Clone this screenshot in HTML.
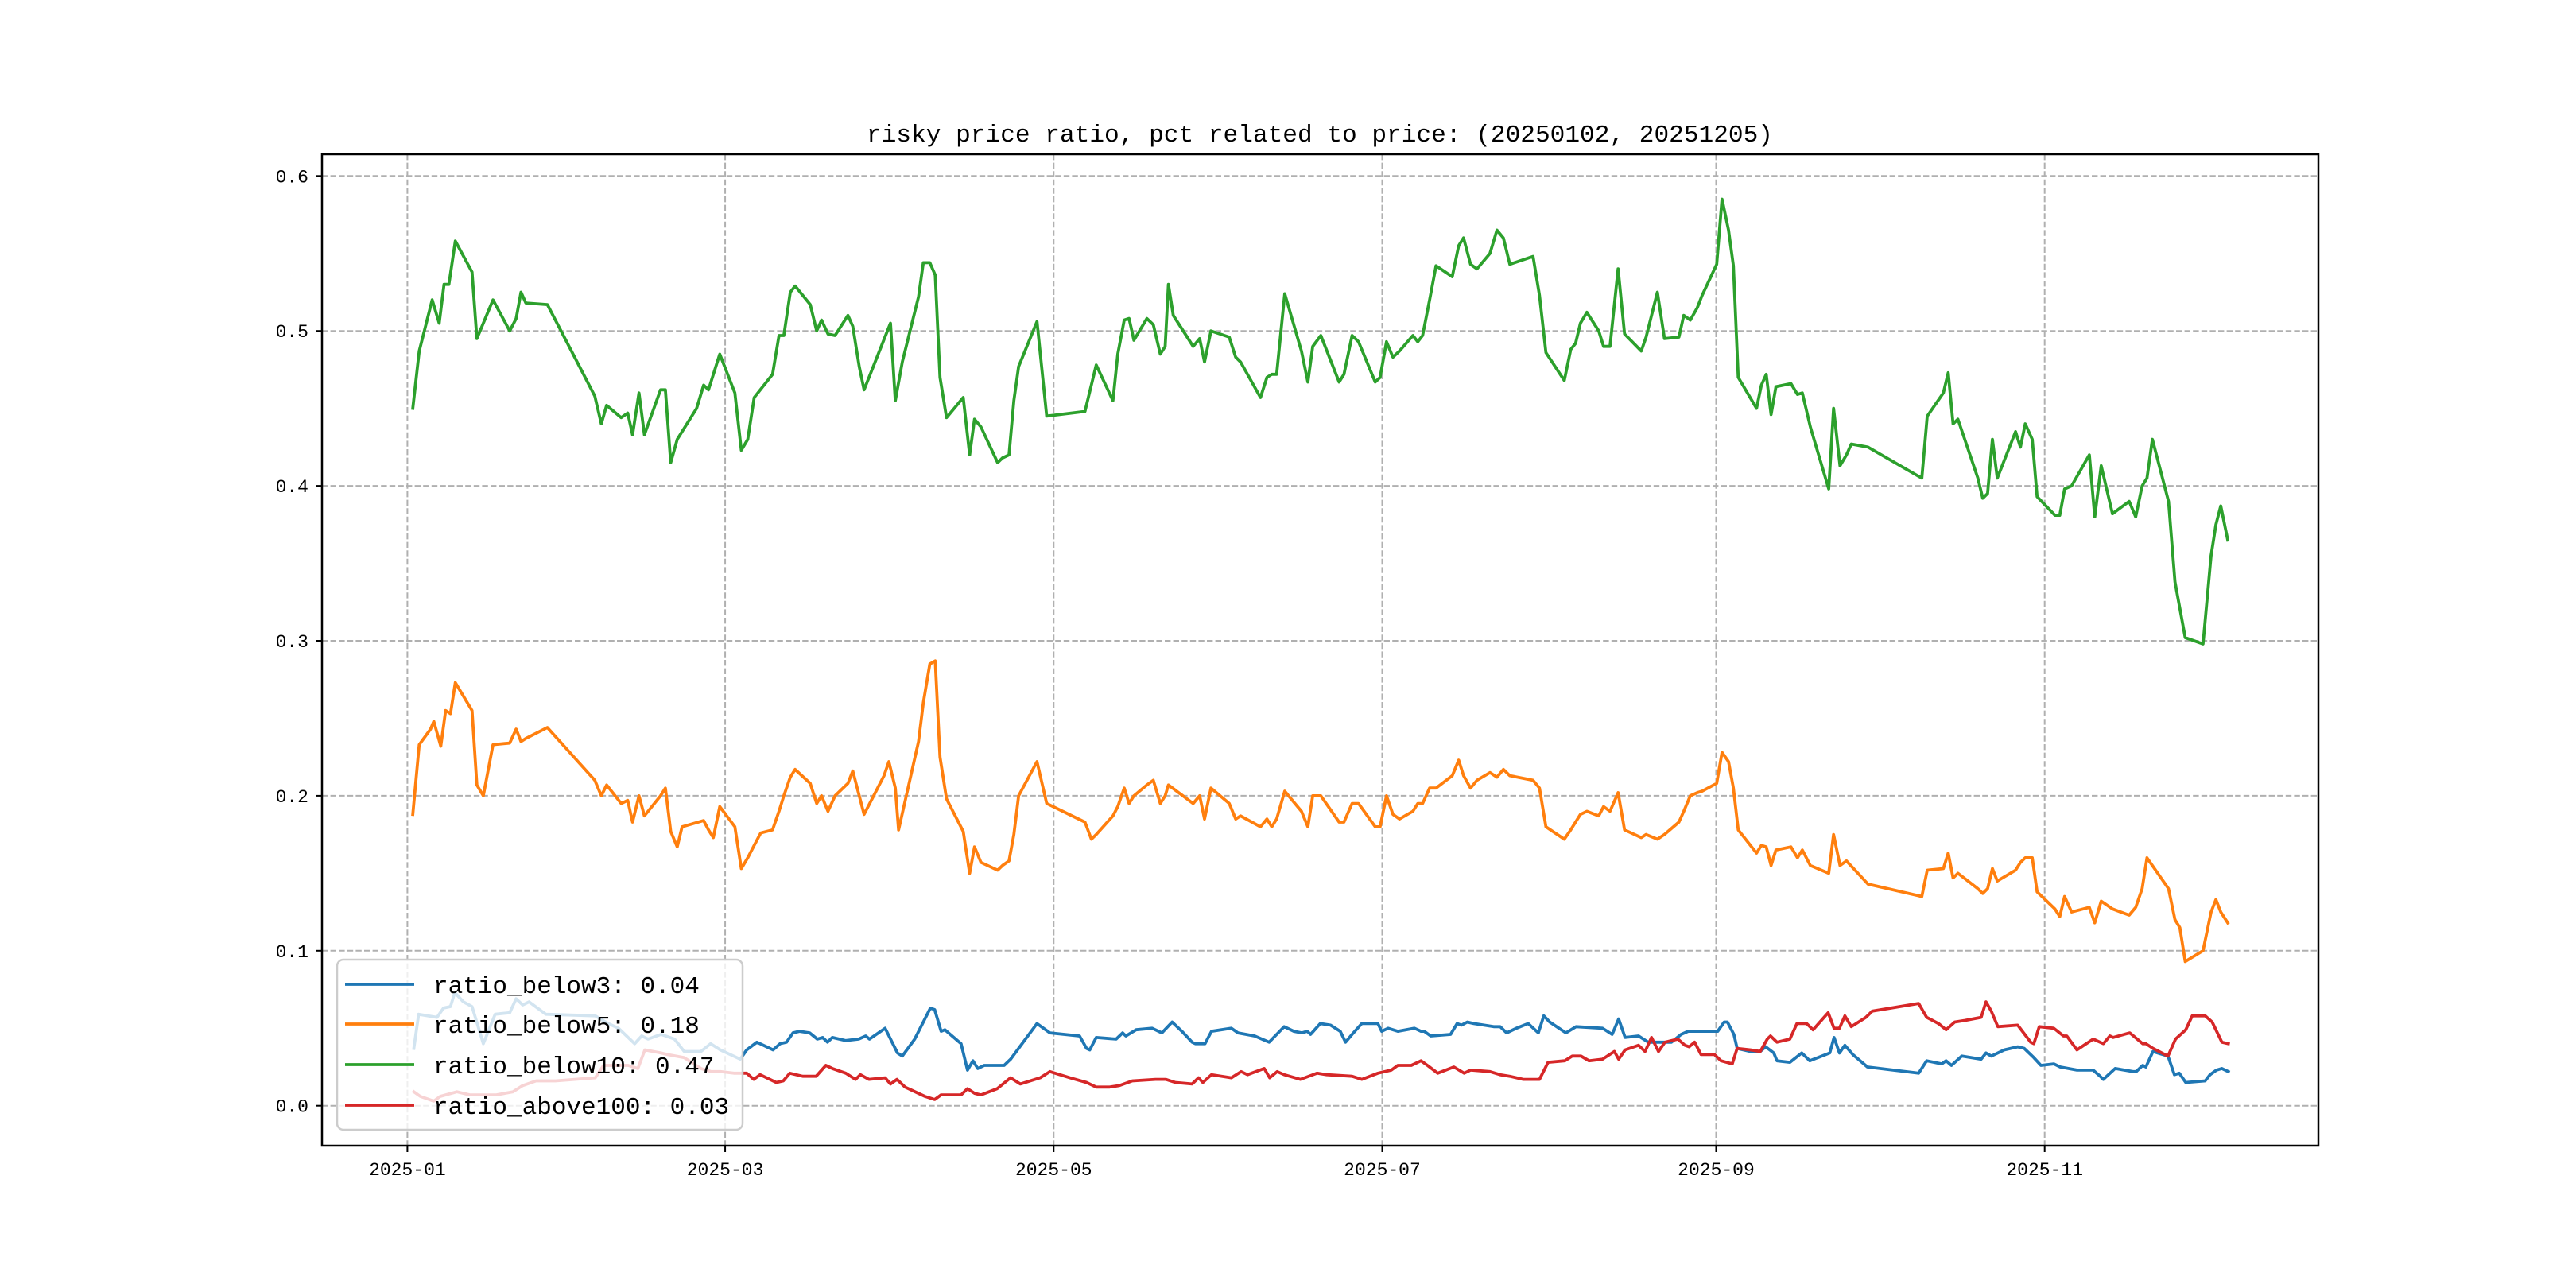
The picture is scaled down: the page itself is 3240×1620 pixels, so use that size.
<!DOCTYPE html>
<html><head><meta charset="utf-8">
<style>
html,body{margin:0;padding:0;background:#fff;}
svg{display:block;}
text{font-family:"Liberation Mono","Noto Sans CJK SC",monospace;fill:#000;}
</style></head>
<body>
<svg id="chart" width="3240" height="1620" viewBox="0 0 3240 1620" xmlns="http://www.w3.org/2000/svg">
<rect x="0" y="0" width="3240" height="1620" fill="#fff"/>
<text x="1660" y="178" text-anchor="middle" font-size="31" textLength="1140" lengthAdjust="spacingAndGlyphs">risky price ratio, pct related to price: (20250102, 20251205)</text>
<g id="grid"></g>
<g id="series"></g>
<rect x="405" y="194" width="2511" height="1247" fill="none" stroke="#000" stroke-width="2.5"/>
<g id="ticks"></g>
<g id="legend"></g>
</svg>
<script>
// x values are days since 2025-01-01
const xTickLabels = ["2025-01","2025-03","2025-05","2025-07","2025-09","2025-11"];
const xTickDays = [0,59,120,181,243,304];
const yTickValues = [0.0,0.1,0.2,0.3,0.4,0.5,0.6];
const yTickLabels = ["0.0","0.1","0.2","0.3","0.4","0.5","0.6"];
const seriesNames = ["ratio_below3: 0.04","ratio_below5: 0.18","ratio_below10: 0.47","ratio_above100: 0.03"];
const seriesColors = ["#1f77b4","#ff7f0e","#2ca02c","#d62728"];

const below10Days = [1.0,2.2,4.6,5.9,6.8,7.7,8.9,12.0,12.9,14.1,15.9,19.0,20.2,21.1,22.0,26.0,34.8,36.0,37.0,39.7,40.9,41.8,43.0,44.0,47.0,47.9,48.9,50.1,53.7,55.0,55.9,58.0,60.8,62.0,63.2,64.4,67.8,69.0,69.9,71.1,72.0,74.8,76.0,76.9,78.1,79.4,81.8,82.7,83.9,84.8,89.7,90.6,91.9,94.9,95.8,97.0,98.0,98.9,100.1,103.2,104.4,105.3,106.5,109.6,110.5,111.7,112.6,113.5,116.9,118.7,125.8,127.9,131.0,131.9,133.1,134.0,134.9,137.3,138.5,139.8,140.7,141.3,142.2,145.9,147.1,148.0,149.2,152.6,153.8,154.7,158.4,159.6,160.5,161.4,162.9,166.0,167.2,168.1,169.6,173.0,173.9,175.4,176.6,179.7,180.6,181.8,183.0,184.2,186.7,187.6,188.5,189.8,191.0,194.0,195.2,196.1,197.4,198.6,201.0,202.3,203.5,204.7,209.0,210.2,211.4,214.8,216.0,216.9,217.8,219.0,221.2,222.1,223.3,224.8,226.0,229.1,230.0,232.1,233.4,236.1,237.0,238.2,239.5,240.4,243.1,244.1,245.3,246.2,247.1,250.5,251.4,252.3,253.2,254.1,256.9,258.1,259.0,260.5,263.9,264.8,266.0,267.2,268.1,271.2,281.2,282.2,285.2,286.1,287.0,287.9,291.6,292.5,293.4,294.3,295.2,298.6,299.5,300.4,301.7,302.6,305.9,306.8,307.7,309.0,312.3,313.3,314.5,316.6,319.7,320.9,322.1,323.0,324.0,327.0,328.2,330.1,333.4,334.9,335.8,336.7,338.0];
const below10Values = [0.45,0.487,0.52,0.505,0.53,0.53,0.558,0.538,0.495,0.505,0.52,0.50,0.508,0.525,0.518,0.517,0.458,0.44,0.452,0.444,0.447,0.433,0.46,0.433,0.462,0.462,0.415,0.43,0.45,0.465,0.462,0.485,0.46,0.423,0.43,0.457,0.472,0.497,0.497,0.525,0.529,0.517,0.5,0.507,0.498,0.497,0.51,0.503,0.477,0.462,0.505,0.455,0.48,0.522,0.544,0.544,0.536,0.47,0.444,0.457,0.42,0.443,0.438,0.415,0.418,0.42,0.455,0.477,0.506,0.445,0.448,0.478,0.455,0.485,0.507,0.508,0.494,0.508,0.504,0.485,0.49,0.53,0.51,0.49,0.495,0.48,0.5,0.496,0.483,0.48,0.457,0.47,0.472,0.472,0.524,0.487,0.467,0.49,0.497,0.467,0.472,0.497,0.493,0.467,0.47,0.493,0.483,0.487,0.497,0.493,0.497,0.52,0.542,0.535,0.555,0.56,0.543,0.54,0.55,0.565,0.56,0.543,0.548,0.523,0.486,0.468,0.488,0.492,0.505,0.512,0.5,0.49,0.49,0.54,0.498,0.487,0.496,0.525,0.495,0.496,0.51,0.507,0.515,0.523,0.543,0.585,0.565,0.542,0.47,0.45,0.465,0.472,0.446,0.464,0.466,0.459,0.46,0.438,0.398,0.45,0.413,0.42,0.427,0.425,0.405,0.445,0.46,0.473,0.44,0.443,0.405,0.392,0.395,0.43,0.405,0.435,0.425,0.44,0.43,0.393,0.381,0.381,0.398,0.4,0.42,0.38,0.413,0.382,0.39,0.38,0.4,0.405,0.43,0.39,0.338,0.302,0.298,0.355,0.375,0.387,0.365];

const below5Days = [1.0,2.2,4.3,4.9,6.2,7.1,8.0,8.9,12.0,12.9,14.1,15.9,19.0,20.2,21.1,22.0,26.0,34.8,36.0,37.0,39.7,40.9,41.8,43.0,44.0,47.0,47.9,48.9,50.1,51.0,55.0,55.9,56.8,58.0,60.8,62.0,63.2,64.4,65.6,67.8,69.0,69.9,71.1,72.0,74.8,76.0,76.9,78.1,79.4,81.8,82.7,83.9,84.8,88.5,89.4,90.6,91.2,94.9,95.8,97.0,98.0,98.9,100.1,103.2,104.4,105.3,106.5,109.6,110.5,111.7,112.6,113.5,116.9,118.7,125.8,127.0,127.9,131.0,131.9,133.1,134.0,134.9,137.3,138.5,139.8,140.7,141.3,145.9,147.1,148.0,149.2,152.6,153.8,154.7,158.4,159.6,160.5,161.4,162.9,166.0,167.2,168.1,169.6,173.0,173.9,175.4,176.6,179.7,180.6,181.8,183.0,184.2,186.7,187.6,188.5,189.8,191.0,194.0,195.2,196.1,197.4,198.6,201.0,202.3,203.5,204.7,209.0,210.2,211.4,214.8,216.0,217.8,219.0,221.2,222.1,223.3,224.8,226.0,229.1,230.0,232.1,233.4,236.1,237.0,238.2,239.5,240.4,243.1,244.1,245.3,246.2,247.1,250.5,251.4,252.3,253.2,254.1,256.9,258.1,259.0,260.5,263.9,264.8,266.0,267.2,271.2,281.2,282.2,285.2,286.1,287.0,287.9,291.6,292.5,293.4,294.3,295.2,298.6,299.5,300.4,301.7,302.6,305.9,306.8,307.7,309.0,312.3,313.3,314.5,316.6,319.7,320.9,322.1,323.0,327.0,328.2,329.1,330.1,333.4,334.9,335.8,336.7,338.0];
const below5Values = [0.188,0.233,0.243,0.248,0.232,0.255,0.253,0.273,0.255,0.207,0.2,0.233,0.234,0.243,0.235,0.237,0.244,0.21,0.2,0.207,0.195,0.197,0.183,0.2,0.187,0.2,0.205,0.177,0.167,0.18,0.184,0.178,0.173,0.193,0.18,0.153,0.16,0.168,0.176,0.178,0.19,0.2,0.212,0.217,0.208,0.195,0.2,0.19,0.2,0.208,0.216,0.2,0.188,0.213,0.222,0.205,0.178,0.235,0.26,0.285,0.287,0.225,0.198,0.177,0.15,0.167,0.157,0.152,0.155,0.158,0.175,0.2,0.222,0.195,0.183,0.172,0.175,0.187,0.193,0.205,0.195,0.2,0.207,0.21,0.195,0.2,0.207,0.195,0.2,0.185,0.205,0.195,0.185,0.187,0.18,0.185,0.18,0.185,0.203,0.19,0.18,0.2,0.2,0.183,0.183,0.195,0.195,0.18,0.18,0.2,0.188,0.185,0.19,0.195,0.195,0.205,0.205,0.213,0.223,0.213,0.205,0.21,0.215,0.212,0.217,0.213,0.21,0.205,0.18,0.172,0.178,0.188,0.19,0.187,0.193,0.19,0.202,0.178,0.173,0.175,0.172,0.175,0.183,0.19,0.2,0.202,0.203,0.208,0.228,0.222,0.205,0.178,0.163,0.168,0.167,0.155,0.165,0.167,0.16,0.165,0.155,0.15,0.175,0.155,0.158,0.143,0.135,0.152,0.153,0.163,0.147,0.15,0.14,0.137,0.14,0.153,0.145,0.152,0.157,0.16,0.16,0.138,0.127,0.122,0.135,0.125,0.128,0.118,0.132,0.127,0.123,0.128,0.14,0.16,0.14,0.12,0.115,0.093,0.1,0.125,0.133,0.125,0.118];

const below3Days = [1.2,2.1,5.5,6.7,8.0,8.8,10.4,12.0,14.1,16.3,19.0,20.2,21.4,22.6,25.7,34.9,37.3,39.2,42.2,43.5,44.7,47.1,49.6,51.4,54.5,56.3,58.1,61.8,63.0,64.9,67.9,69.2,70.4,71.6,72.8,74.7,76.1,77.1,78.0,78.9,81.4,83.8,85.1,85.8,88.7,91.0,91.9,94.2,97.1,97.9,99.1,99.8,102.8,104.0,105.0,105.9,107.1,110.8,112.0,116.9,119.3,124.8,126.1,126.7,127.9,131.6,132.8,133.4,135.3,138.3,140.1,142.0,143.8,145.7,146.3,148.1,149.3,153.0,154.2,157.3,160.0,162.8,164.6,166.1,167.1,167.7,169.5,171.4,173.2,174.2,175.4,177.2,180.2,180.9,182.1,183.9,187.0,188.2,188.8,190.0,193.7,194.9,195.7,196.8,198.0,201.7,202.9,204.1,205.9,208.1,210.0,211.0,212.1,215.1,217.0,221.9,223.7,224.9,226.1,228.6,230.4,231.6,234.7,236.5,237.8,243.3,244.5,245.1,246.3,246.9,249.4,251.2,252.2,253.7,254.3,256.7,258.9,260.4,264.1,264.9,265.9,266.9,268.4,271.1,280.6,282.1,284.9,285.7,286.7,288.6,292.2,293.1,294.1,296.5,299.0,300.2,302.0,303.3,305.7,306.9,310.0,313.0,314.3,314.9,317.1,320.4,321.0,322.2,322.8,324.1,326.9,328.1,329.0,330.2,333.8,334.7,335.9,336.9,338.1];
const below3Values = [0.037,0.059,0.057,0.063,0.064,0.073,0.067,0.064,0.040,0.059,0.060,0.069,0.065,0.067,0.059,0.058,0.053,0.050,0.040,0.045,0.043,0.046,0.043,0.035,0.035,0.040,0.036,0.030,0.036,0.041,0.036,0.040,0.041,0.047,0.048,0.047,0.043,0.044,0.041,0.044,0.042,0.043,0.045,0.043,0.050,0.034,0.032,0.043,0.063,0.062,0.048,0.049,0.040,0.023,0.029,0.024,0.026,0.026,0.030,0.053,0.047,0.045,0.037,0.036,0.044,0.043,0.047,0.045,0.049,0.050,0.047,0.054,0.048,0.041,0.040,0.040,0.048,0.050,0.047,0.045,0.041,0.051,0.048,0.047,0.048,0.046,0.053,0.052,0.048,0.041,0.046,0.053,0.053,0.048,0.050,0.048,0.050,0.048,0.048,0.045,0.046,0.053,0.052,0.054,0.053,0.051,0.051,0.047,0.050,0.053,0.047,0.058,0.054,0.047,0.051,0.050,0.046,0.056,0.044,0.045,0.041,0.041,0.041,0.046,0.048,0.048,0.054,0.054,0.046,0.037,0.035,0.035,0.038,0.034,0.029,0.028,0.034,0.029,0.034,0.044,0.034,0.039,0.033,0.025,0.021,0.029,0.027,0.029,0.026,0.032,0.030,0.034,0.032,0.036,0.038,0.037,0.031,0.026,0.027,0.025,0.023,0.023,0.019,0.017,0.024,0.022,0.022,0.026,0.025,0.035,0.032,0.020,0.021,0.015,0.016,0.020,0.023,0.024,0.022];

const above100Days = [1.2,2.4,4.9,6.1,9.2,11.6,16.5,19.6,21.4,23.9,27.5,34.9,36.4,41.0,42.8,44.1,47.1,48.3,51.4,54.5,56.4,58.1,60.6,63.0,64.3,65.5,68.5,69.8,71.0,73.4,75.9,77.7,78.9,81.4,83.2,84.1,85.7,88.7,89.7,90.9,92.4,96.1,97.9,99.1,102.8,104.0,105.3,106.5,109.5,112.0,113.8,117.5,119.3,123.0,126.1,127.9,130.4,132.2,134.6,138.9,140.8,142.6,145.7,146.9,147.7,149.3,153.0,154.8,156.0,159.1,160.1,161.5,162.8,165.8,168.9,170.7,175.4,177.2,180.2,182.7,183.9,186.4,188.2,189.4,191.3,194.3,196.2,197.4,201.0,202.9,204.7,207.2,209.0,210.2,211.8,214.9,216.3,217.9,219.4,221.9,224.1,224.9,226.1,228.6,229.8,231.0,232.3,233.5,235.9,237.2,238.0,239.0,240.2,242.7,243.9,246.0,246.9,249.4,251.2,252.5,253.1,254.3,256.7,258.0,259.8,261.0,263.8,264.9,265.9,266.9,268.1,270.8,272.0,280.6,282.1,284.3,285.7,287.3,289.2,292.2,293.1,294.1,295.3,299.0,301.4,302.0,303.0,305.7,307.5,308.1,310.0,313.0,314.9,316.1,316.7,319.8,322.2,322.8,324.1,326.9,328.3,330.2,331.4,333.8,335.1,336.9,338.1];
const above100Values = [0.009,0.006,0.003,0.006,0.009,0.007,0.007,0.009,0.013,0.016,0.016,0.018,0.026,0.026,0.024,0.036,0.034,0.033,0.031,0.024,0.022,0.022,0.021,0.021,0.017,0.020,0.015,0.016,0.021,0.019,0.019,0.026,0.024,0.021,0.017,0.020,0.017,0.018,0.014,0.017,0.012,0.006,0.004,0.007,0.007,0.011,0.008,0.007,0.011,0.018,0.014,0.018,0.022,0.018,0.015,0.012,0.012,0.013,0.016,0.017,0.017,0.015,0.014,0.018,0.015,0.020,0.018,0.022,0.020,0.024,0.018,0.022,0.020,0.017,0.021,0.020,0.019,0.017,0.021,0.023,0.026,0.026,0.029,0.026,0.021,0.025,0.021,0.023,0.022,0.020,0.019,0.017,0.017,0.017,0.028,0.029,0.032,0.032,0.029,0.030,0.035,0.030,0.036,0.039,0.035,0.044,0.035,0.041,0.043,0.039,0.038,0.041,0.033,0.033,0.029,0.027,0.037,0.036,0.035,0.043,0.045,0.041,0.043,0.053,0.053,0.049,0.060,0.050,0.050,0.058,0.051,0.057,0.061,0.066,0.057,0.053,0.049,0.054,0.055,0.057,0.067,0.061,0.051,0.052,0.041,0.040,0.051,0.050,0.045,0.045,0.036,0.043,0.040,0.045,0.044,0.047,0.040,0.040,0.037,0.032,0.043,0.049,0.058,0.058,0.054,0.041,0.040];

const X0 = 512.4, PXDAY = 6.774, Y0 = 1390.7, PXUNIT = 1949;
function xScale(d){ return X0 + d*PXDAY; }
function yScale(v){ return Y0 - v*PXUNIT; }
const NS = "http://www.w3.org/2000/svg";
function mk(tag, attrs, parent){
  const e = document.createElementNS(NS, tag);
  for (const k in attrs) e.setAttribute(k, attrs[k]);
  parent.appendChild(e); return e;
}
const grid = document.getElementById("grid");
const ticks = document.getElementById("ticks");
xTickDays.forEach((d,i)=>{
  const x = xScale(d);
  const g = mk("line",{x1:x,x2:x,y1:194,y2:1441,stroke:"#b0b0b0","stroke-width":2,"stroke-dasharray":"7.4,3.2"},grid);
  
  
  const t = mk("line",{x1:x,x2:x,y1:1441,y2:1449,stroke:"#000","stroke-width":2},ticks);
  
  
  const l = mk("text",{x:x,y:1478,"text-anchor":"middle","font-size":23},ticks);
  l.textContent = xTickLabels[i];
  
  
});
yTickValues.forEach((v,i)=>{
  const y = yScale(v);
  const g = mk("line",{x1:405,x2:2916,y1:y,y2:y,stroke:"#b0b0b0","stroke-width":2,"stroke-dasharray":"7.4,3.2"},grid);
  
  
  const t = mk("line",{x1:397,x2:405,y1:y,y2:y,stroke:"#000","stroke-width":2},ticks);
  
  
  const l = mk("text",{x:388,y:y+8,"text-anchor":"end","font-size":23},ticks);
  l.textContent = yTickLabels[i];
  
  
});
const sg = document.getElementById("series");
const allDays = [below3Days, below5Days, below10Days, above100Days];
const allVals = [below3Values, below5Values, below10Values, above100Values];
const lineNames = ["line-ratio-below3","line-ratio-below5","line-ratio-below10","line-ratio-above100"];
for (let s=0; s<4; s++){
  const n = Math.min(allDays[s].length, allVals[s].length);
  let pts = [];
  for (let i=0;i<n;i++) pts.push(xScale(allDays[s][i]).toFixed(1)+","+yScale(allVals[s][i]).toFixed(1));
  const p = mk("polyline",{points:pts.join(" "),fill:"none",stroke:seriesColors[s],"stroke-width":3.8,"stroke-linejoin":"round","stroke-linecap":"square"},sg);
  
  
}
const lg = document.getElementById("legend");
const box = mk("rect",{x:424,y:1207,width:510,height:214,rx:8,fill:"#fff","fill-opacity":0.8,stroke:"#cccccc","stroke-width":2.5},lg);


const legendY = [1238,1288,1339,1390];
for (let s=0;s<4;s++){
  const y = legendY[s];
  const ln = mk("line",{x1:434,x2:521,y1:y,y2:y,stroke:seriesColors[s],"stroke-width":3.8},lg);
  
  
  const tx = mk("text",{x:545,y:y+11,"font-size":31},lg);
  tx.textContent = seriesNames[s];
  
  
}
</script>
</body></html>
